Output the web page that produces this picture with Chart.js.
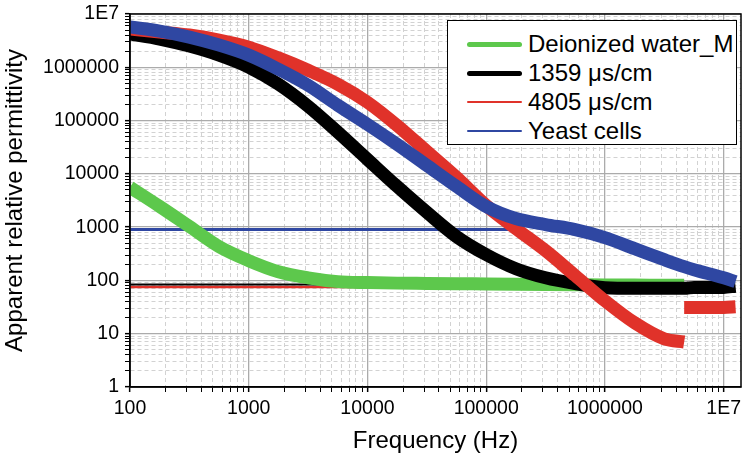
<!DOCTYPE html>
<html>
<head>
<meta charset="utf-8">
<script src="https://cdn.jsdelivr.net/npm/chart.js@4.4.1/dist/chart.umd.min.js"></script>
<style>
html,body{margin:0;padding:0;background:#fff;}
#wrap{position:relative;width:753px;height:465px;}
#legend{position:absolute;left:447px;top:20px;width:290px;height:125px;border:1.5px solid #000;background:#fff;box-sizing:border-box;font-family:"Liberation Sans",Arial,sans-serif;font-size:24px;color:#000;}
.row{position:absolute;left:0;height:28px;display:flex;align-items:center;}
.swatch{margin-left:19px;width:55px;}
.lab{margin-left:6px;white-space:nowrap;line-height:28px;}
</style>
</head>
<body>
<div id="wrap">
<canvas id="c" width="753" height="465"></canvas>
<div id="legend"></div>
</div>
<script>
// ---------- data ----------
const freqHz = [100, 178, 316, 562, 1000, 1778, 3162, 5623, 10000, 17783, 31623, 56234,
  100000, 177828, 316228, 562341, 1000000, 1778279, 3162278, 4650000, 5623413, 10000000, 12589254];

const deionizedWater = [5600, 2440, 1030, 431, 235, 146, 112, 95, 91, 89, 88, 87,
  86, 85, 84, 83, 82, 82, 81, 81, null, null, null];

const cond1359 = [4210000, 3390000, 2500000, 1690000, 1010000, 482000, 186000, 60700, 18700, 5800, 1900, 665,
  305, 166, 112, 87, 73, 71, 71, 71, 74, 74, 78];

const cond4805 = [5220000, 4590000, 4030000, 3240000, 2390000, 1500000, 880000, 482000, 221000, 81000, 26400, 8600,
  2550, 940, 362, 123, 41.5, 16.0, 8.0, 7.0, null, null, null];

const cond4805HighFreq = [4650000, 10000000, 12589254];
const cond4805HighVal = [31, 31, 32];

const yeastCells = [5700000, 4790000, 3690000, 2610000, 1690000, 920000, 460000, 194000, 85000, 35800, 14400, 5800,
  2440, 1450, 1120, 900, 637, 395, 245, 181, 159, 112, 95];

// thin horizontal lines
const yeastFlatFreq = [100, 160000];   const yeastFlatVal = [900, 900];
const c1359FlatFreq = [100, 30000];    const c1359FlatVal = [84, 84];
const c4805FlatFreq = [100, 30000];    const c4805FlatVal = [75, 75];

const seriesNames = ['Deionized water_M', '1359 μs/cm', '4805 μs/cm', 'Yeast cells'];

const xMajorTicks = [100, 1000, 10000, 100000, 1000000, 10000000];
const xTickLabels = ['100', '1000', '10000', '100000', '1000000', '1E7'];
const yMajorTicks = [1, 10, 100, 1000, 10000, 100000, 1000000, 10000000];
const yTickLabels = ['1', '10', '100', '1000', '10000', '100000', '1000000', '1E7'];

// ---------- styling ----------
const COLORS = ['#5dc84c', '#000000', '#e0322a', '#2f47a2'];
const FONT = '"Liberation Sans", Arial, sans-serif';

function withMinors(majors) {
  const out = [];
  majors.forEach((d, i) => {
    out.push(d);
    if (i < majors.length - 1) for (let m = 2; m <= 9; m++) out.push(m * d);
  });
  return out;
}
const xTickValues = withMinors(xMajorTicks);
const yTickValues = withMinors(yMajorTicks);

function isMajor(v) {
  if (v === undefined || v === null) return false;
  const l = Math.log10(v);
  return Math.abs(l - Math.round(l)) < 1e-9;
}
function labelFor(v, majors, labels) {
  const i = majors.indexOf(v);
  return i >= 0 ? labels[i] : '';
}
function pts(xs, ys) { return xs.map((x, i) => ({x: x, y: ys[i]})); }

function band(vals, color, order, xs) {
  return {
    data: pts(xs || freqHz, vals),
    borderColor: color, backgroundColor: color,
    borderWidth: 13, pointRadius: 0, fill: false,
    cubicInterpolationMode: 'monotone',
    borderCapStyle: 'butt', borderJoinStyle: 'round',
    spanGaps: false, clip: 0, order: order
  };
}
function thin(xs, ys, color, w, order) {
  return {
    data: pts(xs, ys), borderColor: color, backgroundColor: color,
    borderWidth: w, pointRadius: 0, fill: false, clip: 0, order: order
  };
}

const gridCfg = {
  color: c => isMajor(c.tick && c.tick.value) ? '#ababab' : '#d2d2d2',
  lineWidth: c => isMajor(c.tick && c.tick.value) ? 1.3 : 1,
  tickColor: '#000',
  tickLength: 5,
  tickWidth: c => isMajor(c.tick && c.tick.value) ? 1.5 : 1
};
const borderCfg = {
  color: '#000', width: 1.5,
  dash: c => (c.tick && !isMajor(c.tick.value)) ? [4, 3] : []
};

const framePlugin = {
  id: 'frame',
  afterDatasetsDraw(chart) {
    const {ctx, chartArea: a} = chart;
    ctx.save();
    ctx.strokeStyle = '#000';
    ctx.lineWidth = 1.5;
    ctx.strokeRect(a.left, a.top, a.right - a.left, a.bottom - a.top);
    ctx.restore();
  }
};

new Chart(document.getElementById('c'), {
  type: 'line',
  data: {
    datasets: [
      band(yeastCells, COLORS[3], 0),
      band(cond4805, COLORS[2], 1),
      band(cond4805HighVal, COLORS[2], 1, cond4805HighFreq),
      band(cond1359, COLORS[1], 2),
      band(deionizedWater, COLORS[0], 3),
      thin(yeastFlatFreq, yeastFlatVal, COLORS[3], 3, 4),
      thin(c1359FlatFreq, c1359FlatVal, COLORS[1], 2, 5),
      thin(c4805FlatFreq, c4805FlatVal, COLORS[2], 2.5, 6)
    ]
  },
  options: {
    responsive: false,
    animation: false,
    devicePixelRatio: 1,
    layout: {padding: {left: 0, top: 14, right: 12, bottom: 0}},
    plugins: {legend: {display: false}, tooltip: {enabled: false}},
    scales: {
      x: {
        type: 'logarithmic', min: 100, max: 14000000,
        afterBuildTicks: s => { s.ticks = xTickValues.map(v => ({value: v})); },
        afterFit: s => { s.height = 78; s.paddingLeft = 0; s.paddingRight = 0; },
        ticks: {
          autoSkip: false, maxRotation: 0, minRotation: 0, padding: 5, color: '#000',
          font: {family: FONT, size: 19.5},
          callback: v => labelFor(v, xMajorTicks, xTickLabels)
        },
        grid: gridCfg, border: borderCfg,
        title: {display: true, text: 'Frequency (Hz)', color: '#000',
          font: {family: FONT, size: 24}, padding: {top: 0, bottom: 9}}
      },
      y: {
        type: 'logarithmic', min: 1, max: 10000000,
        afterBuildTicks: s => { s.ticks = yTickValues.map(v => ({value: v})); },
        afterFit: s => { s.width = 130; s.paddingTop = 0; s.paddingBottom = 0; },
        ticks: {
          autoSkip: false, padding: 6, color: '#000',
          font: {family: FONT, size: 19.5},
          callback: v => labelFor(v, yMajorTicks, yTickLabels)
        },
        grid: gridCfg, border: borderCfg,
        title: {display: true, text: 'Apparent relative permittivity', color: '#000',
          font: {family: FONT, size: 24}, padding: {top: 1, bottom: 0}}
      }
    }
  },
  plugins: [framePlugin]
});

// ---------- legend ----------
const legendLineWidths = [5, 5, 2.5, 2.5];
const legendRowTops = [9, 38, 67, 96];
const leg = document.getElementById('legend');
seriesNames.forEach((name, i) => {
  const row = document.createElement('div');
  row.className = 'row';
  row.style.top = legendRowTops[i] + 'px';
  const sw = document.createElement('div');
  sw.className = 'swatch';
  sw.style.height = legendLineWidths[i] + 'px';
  sw.style.background = COLORS[i];
  sw.style.borderRadius = (legendLineWidths[i] / 2) + 'px';
  const lab = document.createElement('span');
  lab.className = 'lab';
  lab.textContent = name;
  row.appendChild(sw);
  row.appendChild(lab);
  leg.appendChild(row);
});
</script>
</body>
</html>
